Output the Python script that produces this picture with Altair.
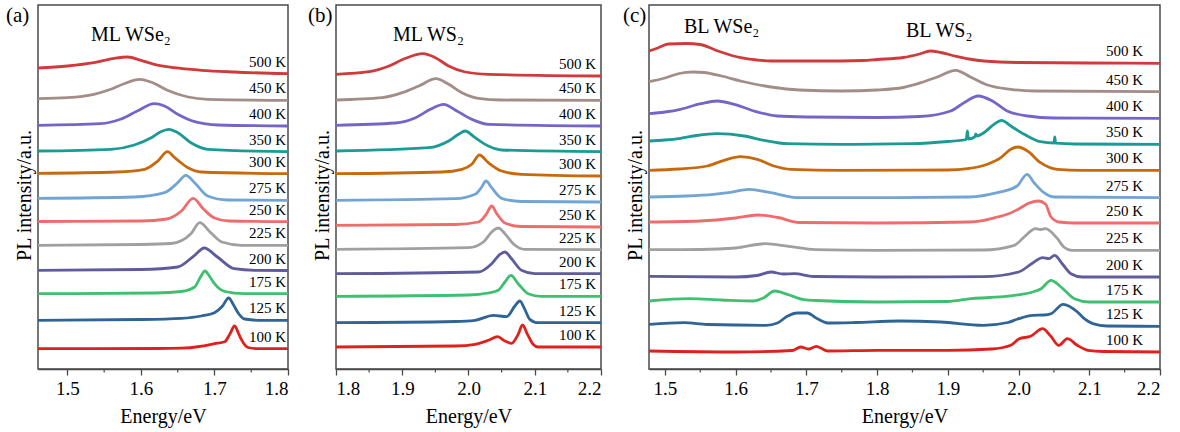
import altair as alt
import pandas as pd

# Temperature series, top curve first, and their line colours
TEMPS = ["500 K", "450 K", "400 K", "350 K", "300 K", "275 K",
         "250 K", "225 K", "200 K", "175 K", "125 K", "100 K"]
COLORS = ["#d03a3a", "#a38d89", "#7466c8", "#1b9a96", "#c8690e", "#72a4d4",
          "#f06c6c", "#a0a0a0", "#5e5c9c", "#3fbf70", "#2f6596", "#e0201c"]

# (a) monolayer WSe2 spectra: (energy in eV, stacked PL intensity in a.u.)
wse2_500 = [(1.46, 301), (1.50, 303), (1.536, 306.3), (1.564, 310.7), (1.582, 312), (1.600, 308.7),
            (1.618, 304.7), (1.645, 301.3), (1.682, 298.7), (1.727, 297), (1.80, 295.3)]
wse2_450 = [(1.46, 270.3), (1.50, 271.3), (1.536, 274.7), (1.559, 279.7), (1.577, 285.3), (1.598, 289.7),
            (1.616, 286.3), (1.636, 278.7), (1.664, 272), (1.691, 269.7), (1.80, 268.7)]
wse2_400 = [(1.46, 243.7), (1.545, 245.3), (1.572, 249.7), (1.595, 258), (1.618, 265.3), (1.632, 263),
            (1.650, 254.7), (1.673, 247.3), (1.705, 244), (1.80, 243)]
wse2_350 = [(1.46, 218), (1.559, 219.7), (1.591, 224), (1.614, 231.3), (1.627, 237.3), (1.638, 239.7),
            (1.650, 236.3), (1.668, 226.3), (1.691, 219.7), (1.80, 217.3)]
wse2_300 = [(1.46, 195.7), (1.568, 197), (1.605, 199.7), (1.623, 208), (1.636, 217.3), (1.646, 211.3),
            (1.664, 201.3), (1.682, 197), (1.80, 195.3)]
wse2_275 = [(1.46, 170.7), (1.591, 172), (1.632, 176.3), (1.650, 186.3), (1.661, 193.7), (1.673, 186.3),
            (1.691, 173), (1.718, 169), (1.80, 168.7)]
wse2_250 = [(1.46, 147.5), (1.60, 148), (1.635, 150), (1.655, 158), (1.671, 170.7), (1.685, 160),
            (1.70, 151), (1.72, 148), (1.80, 147.3)]
wse2_225 = [(1.46, 123.7), (1.60, 124.5), (1.641, 125.5), (1.668, 135.3), (1.680, 146.3), (1.694, 137),
            (1.71, 127), (1.737, 123.7), (1.80, 123.7)]
wse2_200 = [(1.46, 98.7), (1.60, 99.5), (1.650, 102), (1.673, 113.7), (1.686, 121), (1.704, 112),
            (1.727, 100.3), (1.755, 98.7), (1.80, 98.5)]
wse2_175 = [(1.46, 75.3), (1.62, 76), (1.655, 77.5), (1.673, 82), (1.681, 92), (1.687, 98), (1.693, 93),
            (1.700, 85.3), (1.714, 77.5), (1.74, 75.3), (1.80, 75.3)]
wse2_125 = [(1.46, 48.7), (1.60, 49.5), (1.655, 50.7), (1.682, 53), (1.700, 56.3), (1.711, 63), (1.7192, 71),
            (1.726, 64), (1.732, 56.3), (1.741, 50), (1.76, 48.7), (1.80, 48.7)]
wse2_100 = [(1.46, 20.3), (1.62, 20.5), (1.655, 20.8), (1.68, 22.5), (1.700, 25.3), (1.714, 27.3), (1.721, 35),
            (1.7274, 43), (1.733, 35), (1.7365, 29.7), (1.7457, 21.5), (1.76, 20.3), (1.80, 20.3)]

# (b) monolayer WS2 spectra
ws2_500 = [(1.80, 294.7), (1.85, 297.3), (1.88, 303), (1.905, 310.7), (1.931, 315.3), (1.95, 311.3),
           (1.970, 303), (1.995, 297), (2.030, 294.7), (2.2, 293)]
ws2_450 = [(1.80, 269), (1.870, 271.3), (1.90, 276.3), (1.925, 283), (1.951, 290.3), (1.970, 284.7),
           (1.99, 276.3), (2.015, 270.7), (2.05, 269), (2.2, 268.7)]
ws2_400 = [(1.80, 243.7), (1.89, 246), (1.92, 251.3), (1.9425, 259.7), (1.9625, 264.7), (1.9825, 258),
           (2.005, 249.7), (2.03, 244.7), (2.2, 243)]
ws2_350 = [(1.80, 218), (1.94, 221.3), (1.97, 228), (1.985, 234.7), (1.995, 238), (2.01, 231.3),
           (2.03, 223), (2.05, 219), (2.2, 217.3)]
ws2_300 = [(1.80, 195.3), (1.96, 197), (1.99, 199.7), (2.005, 204.7), (2.0165, 214), (2.030, 206.3),
           (2.05, 198), (2.08, 194.7), (2.2, 193)]
ws2_275 = [(1.80, 168.7), (1.98, 170.3), (2.01, 174.7), (2.02, 182), (2.0265, 188), (2.035, 181.3),
           (2.05, 170.7), (2.08, 167.5), (2.2, 167)]
ws2_250 = [(1.80, 143.7), (1.98, 144.5), (2.015, 147), (2.027, 155), (2.035, 163), (2.043, 155),
           (2.055, 146), (2.08, 142.5), (2.2, 142)]
ws2_225 = [(1.80, 119.7), (2.0, 121.3), (2.0225, 127), (2.035, 137), (2.045, 141), (2.055, 135.3),
           (2.0675, 125.3), (2.085, 119.7), (2.2, 119.3)]
ws2_200 = [(1.80, 95.3), (2.015, 97), (2.035, 105.3), (2.0475, 114.7), (2.055, 117), (2.065, 110.3),
           (2.08, 98.7), (2.10, 95.3), (2.2, 95.3)]
ws2_175 = [(1.80, 72.7), (2.0, 74), (2.03, 76), (2.045, 78.7), (2.055, 87), (2.064, 93.7), (2.075, 85.3),
           (2.09, 75.3), (2.11, 72.7), (2.2, 72.7)]
ws2_125 = [(1.80, 46.3), (1.98, 47.5), (2.01, 48.7), (2.0375, 53.7), (2.0575, 52.3), (2.07, 63), (2.0775, 68),
           (2.085, 59.7), (2.0925, 49.7), (2.105, 46.3), (2.2, 46.3)]
ws2_100 = [(1.80, 22), (1.98, 23), (2.01, 24.7), (2.03, 28.7), (2.044, 32.3), (2.055, 28), (2.065, 25.7),
           (2.075, 34.7), (2.0815, 44), (2.089, 34.7), (2.0975, 24.7), (2.105, 22), (2.2, 22)]

# (c) bilayer WSe2 / WS2 heterostructure spectra
bl_500 = [(1.4775, 318), (1.49, 321), (1.505, 325), (1.53, 325.5), (1.55, 324.5), (1.575, 318), (1.607, 311.3),
          (1.63, 309), (1.65, 308), (1.72, 308), (1.78, 308.5), (1.80, 309.5), (1.837, 311.5), (1.86, 315),
          (1.875, 318), (1.89, 316.5), (1.91, 313), (1.93, 310), (1.951, 308), (2.0, 306.5), (2.1, 306), (2.2, 305.7)]
bl_450 = [(1.4775, 287.3), (1.50, 291), (1.52, 295.5), (1.54, 297), (1.555, 296.5), (1.58, 293), (1.61, 287.5),
          (1.65, 282), (1.69, 279), (1.75, 278), (1.80, 279), (1.837, 281.5), (1.862, 286.3), (1.885, 292),
          (1.911, 298.7), (1.932, 292), (1.956, 284), (1.989, 279.7), (2.022, 278), (2.2, 277.3)]
bl_400 = [(1.4775, 255.3), (1.50, 257), (1.522, 259.7), (1.5505, 265.3), (1.574, 268), (1.598, 264.7),
          (1.626, 258), (1.659, 253), (1.70, 252), (1.80, 251.5), (1.86, 252.5), (1.904, 258), (1.923, 266.3),
          (1.943, 273), (1.963, 268), (1.984, 258), (2.013, 253), (2.05, 251), (2.2, 250.7)]
bl_350 = [(1.4775, 228), (1.50, 229), (1.522, 230.7), (1.545, 233.5), (1.574, 235.3), (1.612, 233),
          (1.64, 228.7), (1.673, 225.3), (1.75, 224.7), (1.85, 225.3), (1.90, 227.5), (1.926, 229.5),
          (1.9277, 238), (1.9292, 230), (1.938, 232), (1.9395, 235), (1.941, 233), (1.951, 236.3),
          (1.9653, 244.7), (1.976, 248.7), (1.989, 243), (2.008, 234.7), (2.031, 227.3), (2.050, 226),
          (2.0512, 232), (2.0525, 225.8), (2.08, 225), (2.2, 224.7)]
bl_300 = [(1.4775, 198.7), (1.52, 200), (1.56, 203), (1.5835, 208.7), (1.607, 212.3), (1.6307, 209.7),
          (1.654, 203), (1.678, 199.7), (1.75, 198.7), (1.90, 199), (1.928, 200.3), (1.956, 204.7),
          (1.975, 211.3), (1.989, 219.7), (1.999, 222), (2.0126, 218), (2.031, 206.3), (2.055, 199.7),
          (2.09, 198.7), (2.2, 198.7)]
bl_275 = [(1.4775, 172), (1.53, 173), (1.569, 174.7), (1.59, 176.3), (1.619, 179.7), (1.6495, 176.3),
          (1.69, 171.3), (1.80, 171.3), (1.93, 172), (1.97, 176.3), (1.998, 183), (2.012, 194.7),
          (2.022, 186.3), (2.036, 176.3), (2.05, 172), (2.2, 171.3)]
bl_250 = [(1.4775, 147), (1.55, 148), (1.60, 151), (1.631, 154), (1.66, 151.5), (1.69, 146.5), (1.80, 146),
          (1.93, 147), (1.951, 148.7), (1.97, 152), (1.984, 154.7), (2.0, 160), (2.015, 166), (2.028, 168),
          (2.038, 165), (2.046, 152), (2.057, 147), (2.08, 146), (2.2, 146)]
bl_225 = [(1.4775, 119.3), (1.55, 119.5), (1.60, 121), (1.642, 125.3), (1.675, 122.7), (1.713, 119.3),
          (1.80, 118.7), (1.95, 119), (1.994, 123.7), (2.008, 132), (2.024, 140.3), (2.031, 139.5),
          (2.038, 140.3), (2.055, 130.3), (2.064, 122), (2.075, 118.7), (2.2, 118.7)]
bl_200 = [(1.4775, 92.7), (1.60, 92), (1.63, 93.5), (1.650, 97), (1.667, 95), (1.683, 95.3), (1.71, 92.5),
          (1.80, 92), (1.95, 92.3), (2.0, 97), (2.02, 106), (2.034, 111.3), (2.043, 110.3), (2.051, 113.7),
          (2.062, 105), (2.074, 95.3), (2.09, 92), (2.2, 92)]
bl_175 = [(1.4775, 68), (1.535, 70.3), (1.58, 69), (1.626, 68), (1.64, 71.3), (1.655, 78), (1.673, 74.7),
          (1.697, 69.3), (1.713, 68.5), (1.80, 67), (1.90, 67.5), (1.933, 70.3), (1.96, 71.5), (1.994, 73.7),
          (2.02, 77), (2.032, 80.3), (2.046, 88.7), (2.06, 82), (2.079, 70.3), (2.1, 67), (2.2, 67)]
bl_125 = [(1.4775, 44.7), (1.527, 46.3), (1.56, 44.5), (1.643, 43.7), (1.659, 46), (1.673, 52.7), (1.687, 56),
          (1.701, 56), (1.715, 50.5), (1.73, 46), (1.77, 46.5), (1.83, 48), (1.89, 47), (1.95, 43.7),
          (1.985, 46.5), (2.0, 50.3), (2.02, 53.7), (2.036, 54), (2.046, 55.3), (2.063, 64.7), (2.0833, 57),
          (2.093, 50.3), (2.105, 45.3), (2.125, 43), (2.2, 42.7)]
bl_100 = [(1.4775, 18), (1.60, 17), (1.68, 18.5), (1.692, 22), (1.703, 20), (1.714, 22.7), (1.73, 18),
          (1.80, 18.7), (1.90, 18.7), (1.962, 20), (1.989, 23.7), (2.001, 30.3), (2.017, 32.7), (2.034, 40.3),
          (2.0456, 32.7), (2.057, 23.7), (2.069, 30.3), (2.083, 23.7), (2.098, 18.7), (2.12, 17.5), (2.2, 17)]

PANEL_A = [wse2_500, wse2_450, wse2_400, wse2_350, wse2_300, wse2_275,
           wse2_250, wse2_225, wse2_200, wse2_175, wse2_125, wse2_100]
PANEL_B = [ws2_500, ws2_450, ws2_400, ws2_350, ws2_300, ws2_275,
           ws2_250, ws2_225, ws2_200, ws2_175, ws2_125, ws2_100]
PANEL_C = [bl_500, bl_450, bl_400, bl_350, bl_300, bl_275,
           bl_250, bl_225, bl_200, bl_175, bl_125, bl_100]

# Axis ticks for each panel
TICKS_A, MINOR_A = [1.5, 1.6, 1.7, 1.8], [1.55, 1.65, 1.75]
TICKS_B, MINOR_B = [1.8, 1.9, 2.0, 2.1, 2.2], [1.85, 1.95, 2.05, 2.15]
TICKS_C, MINOR_C = [1.5, 1.6, 1.7, 1.8, 1.9, 2.0, 2.1, 2.2], [1.55, 1.65, 1.75, 1.85, 1.95, 2.05, 2.15]

FONT = "Liberation Serif"
FRAME = "#4a4a4a"
H = 364


def panel(curves, domain, width, ticks, minor, tag, tag_dx, names, label_x):
    rows, ends = [], []
    for temp, pts in zip(TEMPS, curves):
        for e, i in pts:
            rows.append({"E": e, "I": i, "T": temp})
        ends.append({"E": pts[-1][0], "I": pts[-1][1], "T": temp})
    df = pd.DataFrame(rows)
    end_df = pd.DataFrame(ends)

    x = alt.X("E:Q", scale=alt.Scale(domain=domain, nice=False, zero=False),
              axis=alt.Axis(values=ticks, format=".1f", title="Energy/eV", grid=False,
                            tickSize=6, tickWidth=1.3, tickColor=FRAME, domainColor=FRAME,
                            domainWidth=1.5, labelPadding=4, titlePadding=8,
                            labelFont=FONT, labelFontSize=19, labelColor="black",
                            titleFont=FONT, titleFontSize=20, titleFontWeight="normal",
                            titleColor="black"))
    y = alt.Y("I:Q", scale=alt.Scale(domain=[0, H], nice=False, zero=False),
              axis=alt.Axis(title="PL intensity/a.u.", labels=False, ticks=False, domain=False,
                            grid=False, titlePadding=4, titleY=190,
                            titleFont=FONT, titleFontSize=20, titleFontWeight="normal",
                            titleColor="black"))

    lines = alt.Chart(df).mark_line(interpolate="monotone", strokeWidth=2.8, clip=True).encode(
        x=x, y=y,
        color=alt.Color("T:N", scale=alt.Scale(domain=TEMPS, range=COLORS), legend=None),
        detail="T:N",
    )

    temp_labels = alt.Chart(end_df).mark_text(
        align="right", baseline="middle", dy=-12, font=FONT, fontSize=15, color="black"
    ).encode(x=alt.value(label_x), y=alt.Y("I:Q"), text="T:N")

    minor_ticks = alt.Chart(pd.DataFrame({"E": minor})).mark_rule(
        color=FRAME, strokeWidth=1.2
    ).encode(x=alt.X("E:Q"), y=alt.value(H), y2=alt.value(H + 3.5))

    tag_mark = alt.Chart(pd.DataFrame({"t": [tag]})).mark_text(
        align="left", baseline="middle", font=FONT, fontSize=21, color="black"
    ).encode(x=alt.value(tag_dx), y=alt.value(11), text="t:N")

    layers = [lines, minor_ticks, temp_labels, tag_mark]
    for text, nx, ny in names:
        layers.append(
            alt.Chart(pd.DataFrame({"t": [text]})).mark_text(
                align="left", baseline="alphabetic", font=FONT, fontSize=20, color="black"
            ).encode(x=alt.value(nx), y=alt.value(ny), text="t:N")
        )
    return alt.layer(*layers).properties(width=width, height=H)


a = panel(PANEL_A, [1.46, 1.80], 250, TICKS_A, MINOR_A, "(a)", -32,
          [("ML WSe\u2082", 53, 36)], 248)
b = panel(PANEL_B, [1.80, 2.20], 265, TICKS_B, MINOR_B, "(b)", -28,
          [("ML WS\u2082", 57, 36)], 260)
c = panel(PANEL_C, [1.4775, 2.20], 511, TICKS_C, MINOR_C, "(c)", -26,
          [("BL WSe\u2082", 35, 28), ("BL WS\u2082", 257, 32)], 494)

chart = alt.hconcat(a, b, c, spacing=48, bounds="flush").properties(
    padding={"left": 5, "top": 4, "right": 5, "bottom": 5},
    background="white",
).configure_view(
    stroke=FRAME, strokeWidth=1.5
)

chart.save("out.html", embed_options={"renderer": "svg", "actions": False})
